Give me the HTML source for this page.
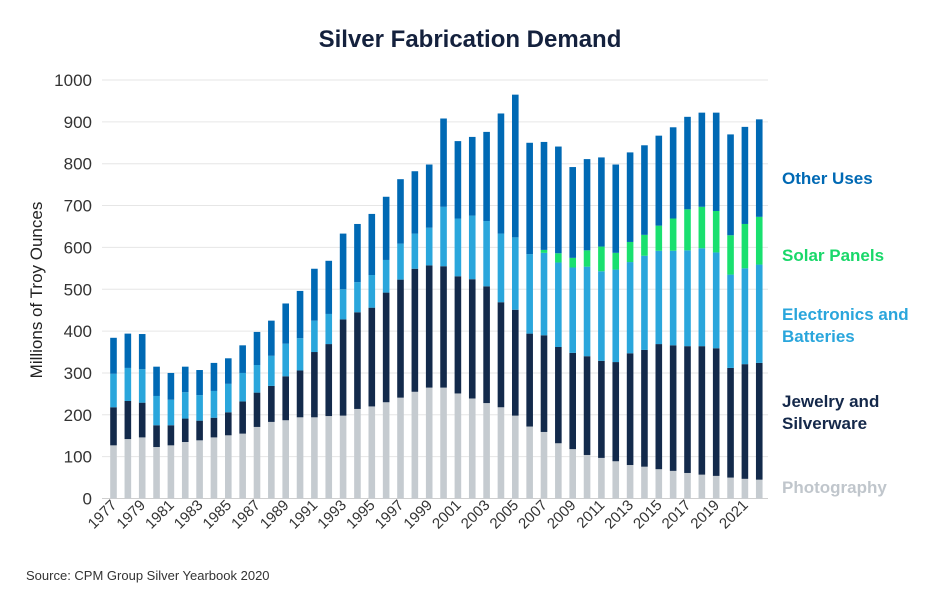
<!DOCTYPE html>
<html><head><meta charset="utf-8"><style>
body{margin:0;background:#fff;font-family:"Liberation Sans",sans-serif;}
svg text{font-family:"Liberation Sans",sans-serif;}
</style></head><body>
<svg id="chart" width="940" height="600" viewBox="0 0 940 600">
<text x="470" y="47" text-anchor="middle" font-size="24" font-weight="bold" fill="#14213d">Silver Fabrication Demand</text>
<text transform="translate(42,290) rotate(-90)" text-anchor="middle" font-size="17" fill="#222">Millions of Troy Ounces</text>
<text x="26" y="580" font-size="13" fill="#333">Source: CPM Group Silver Yearbook 2020</text>
<g id="grid"></g><g id="bars"></g><g id="axes"></g>
<g font-size="17" font-weight="bold">
<text x="782" y="184" fill="#0069b4">Other Uses</text>
<text x="782" y="261" fill="#19d86a">Solar Panels</text>
<text x="782" y="320" fill="#2aa6dc"><tspan x="782">Electronics and</tspan><tspan x="782" dy="22">Batteries</tspan></text>
<text x="782" y="407" fill="#14284a"><tspan x="782">Jewelry and</tspan><tspan x="782" dy="22">Silverware</tspan></text>
<text x="782" y="493" fill="#c0c6cc">Photography</text>
</g>
</svg>
<script>
const years=[1977,1978,1979,1980,1981,1982,1983,1984,1985,1986,1987,1988,1989,1990,1991,1992,1993,1994,1995,1996,1997,1998,1999,2000,2001,2002,2003,2004,2005,2006,2007,2008,2009,2010,2011,2012,2013,2014,2015,2016,2017,2018,2019,2020,2021,2022];
const photography=[127,142,146,123,127,135,139,146,151,155,171,183,187,194,194,197,198,214,220,230,241,255,265,265,251,239,228,218,198,172,159,132,118,104,97,89,80,76,70,66,61,57,54,50,47,45];
const jewelry=[91,91,83,52,48,56,47,47,55,77,82,86,105,112,156,172,230,231,236,262,282,294,292,290,280,285,279,251,253,222,231,230,230,236,232,237,267,279,299,300,303,307,305,262,274,279];
const electronics=[80,79,80,70,61,63,61,64,68,68,66,72,78,77,75,72,72,72,78,78,86,84,90,142,138,152,156,164,173,190,197,202,204,214,214,221,218,225,223,226,229,234,229,223,229,235];
const solar=[0,0,0,0,0,0,0,0,0,0,0,0,0,0,0,0,0,0,0,0,0,0,0,0,0,0,0,0,0,0,7,22,23,39,59,40,48,50,60,77,98,99,99,94,106,114];
const otherUses=[86,82,84,70,64,61,60,67,61,66,79,84,96,113,124,127,133,139,146,151,154,149,151,211,185,188,213,287,341,266,258,255,217,218,213,211,214,214,215,218,221,225,235,241,232,233];
const yTicks=[0,100,200,300,400,500,600,700,800,900,1000];
const ns="http://www.w3.org/2000/svg";
const y0=498.5,y1=80,xFirst=113.5,step=14.35,bw=6.6;
function yS(v){return y0-(v/1000)*(y0-y1);}
function xS(i){return xFirst+i*step;}
function mk(tag,attrs,parent){const e=document.createElementNS(ns,tag);for(const k in attrs)e.setAttribute(k,attrs[k]);parent.appendChild(e);return e;}
const grid=document.getElementById('grid'),bars=document.getElementById('bars'),axes=document.getElementById('axes');
yTicks.forEach(t=>{
 const l=mk('line',{x1:102,x2:768,y1:yS(t),y2:yS(t),stroke:t===0?'#cfcfcf':'#e6e6e6','stroke-width':1},grid);
 
 
 const tx=mk('text',{x:92,y:yS(t)+6,'text-anchor':'end','font-size':17,fill:'#333'},axes);
 tx.textContent=t;
 
 
});
const series=[[photography,'#c5cbd0','photography'],[jewelry,'#132a4b','jewelry'],[electronics,'#2aa6dc','electronics'],[solar,'#19e06f','solar'],[otherUses,'#0069b4','other-uses']];
years.forEach((yr,i)=>{
 let base=0;
 series.forEach(([arr,col,nm])=>{
  const v=arr[i];if(v<=0)return;
  const r=mk('rect',{x:xS(i)-bw/2,y:yS(base+v),width:bw,height:yS(base)-yS(base+v),fill:col},bars);
  
  
  base+=v;
 });
 if(i%2===0&&yr<=2021){
  const tx=mk('text',{transform:`translate(${xS(i)+4},${506}) rotate(-45)`,'text-anchor':'end','font-size':15,fill:'#333'},axes);
  tx.textContent=yr;
  
  
 }
});
</script>
</body></html>
